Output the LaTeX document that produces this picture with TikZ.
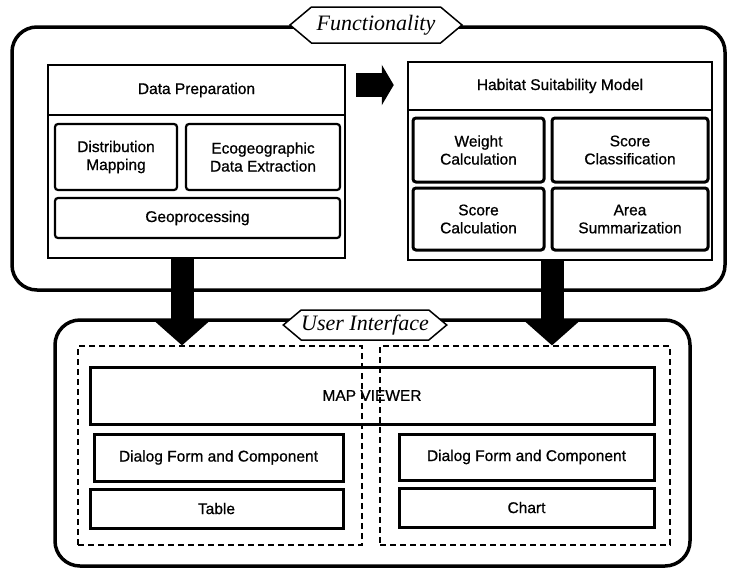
\documentclass[tikz,border=0pt]{standalone}
\usepackage{fontspec}
\setmainfont{Liberation Sans}[FakeBold=0.8]
\newfontfamily\labelfont{Liberation Serif}
\usetikzlibrary{shapes.symbols,arrows.meta}
\begin{document}
\begin{tikzpicture}[x=1pt, y=-1pt,
  every node/.style = {draw, align=center, inner sep=0pt,
    font=\fontsize{15.5}{18}\selectfont},
  frame/.style = {line width=3.5pt, rounded corners=25pt},
  panel/.style = {line width=2.5pt},
  part/.style = {line width=2.2pt, rounded corners=3pt},
  uibox/.style = {line width=3pt},
  pane/.style = {line width=1.2pt, dash pattern=on 6pt off 4pt},
  tag/.style = {shape=signal, signal to=west and east,
    signal pointer angle=80, fill=white, line width=1.5pt,
    font=\labelfont\itshape\fontsize{22}{24}\selectfont},
  bigarrow/.style = {line width=23pt, -{Triangle[length=25pt,width=55pt]}},
  sidearrow/.style = {line width=24pt, -{Triangle[length=12pt,width=40pt]}}]
\useasboundingbox (0,0) rectangle (730,571);
\node[frame, minimum width=713pt, minimum height=263pt] (func) at (368.5,158.5) {};
\node[tag, minimum width=172pt, minimum height=36pt] (functag) at (376,25) {Functionality};
\node[panel, minimum width=297pt, minimum height=193pt] (prep) at (196.5,161.5) {};
\node[panel, minimum width=297pt, minimum height=50pt] (prephead) at (196.5,90) {Data Preparation};
\node[part, minimum width=122pt, minimum height=66pt] (distmap) at (116,157) {Distribution\\Mapping};
\node[part, minimum width=154pt, minimum height=66pt] (ecogeo) at (263,157) {Ecogeographic\\Data Extraction};
\node[part, minimum width=285pt, minimum height=40pt] (geoproc) at (197.5,218) {Geoprocessing};
\node[panel, minimum width=304pt, minimum height=198pt] (habitat) at (560,161) {};
\node[panel, minimum width=304pt, minimum height=48pt] (habhead) at (560,86) {Habitat Suitability Model};
\node[part, line width=3pt, minimum width=131pt, minimum height=64pt] (weight) at (478.5,150) {Weight\\Calculation};
\node[part, line width=3pt, minimum width=156pt, minimum height=64pt] (scoreclass) at (630,150) {Score\\Classification};
\node[part, line width=3pt, minimum width=131pt, minimum height=62pt] (scorecalc) at (478.5,219) {Score\\Calculation};
\node[part, line width=3pt, minimum width=156pt, minimum height=62pt] (areasum) at (630,219) {Area\\Summarization};
\node[frame, minimum width=635pt, minimum height=246pt] (ui) at (372.5,443) {};
\node[uibox, minimum width=564pt, minimum height=57pt] (mapview) at (372,395.5) {MAP VIEWER};
\node[uibox, minimum width=249pt, minimum height=47pt] (dialogleft) at (218.5,457.5) {Dialog Form and Component};
\node[uibox, minimum width=253pt, minimum height=39pt] (table) at (216.5,508.5) {Table};
\node[uibox, minimum width=255pt, minimum height=46pt] (dialogright) at (526.5,457) {Dialog Form and Component};
\node[uibox, minimum width=255pt, minimum height=39pt] (chart) at (526.5,507.5) {Chart};
\node[pane, minimum width=284pt, minimum height=199pt] (leftpane) at (220,445.5) {};
\node[pane, minimum width=290pt, minimum height=199pt] (rightpane) at (525,445.5) {};
\draw[sidearrow] ([xshift=10pt,yshift=5pt]prephead.east) -- ([xshift=-13pt,yshift=5pt]prephead.east -| habhead.west);
\draw[bigarrow] ([xshift=-14.5pt]prep.south) -- ([xshift=-14.5pt]prep.south |- leftpane.north);
\draw[bigarrow] ([xshift=-8pt]habitat.south) -- ([xshift=-8pt]habitat.south |- rightpane.north);
\node[tag, minimum width=160pt, minimum height=30pt] (uitag) at (365,325) {User Interface};
\end{tikzpicture}
\end{document}
